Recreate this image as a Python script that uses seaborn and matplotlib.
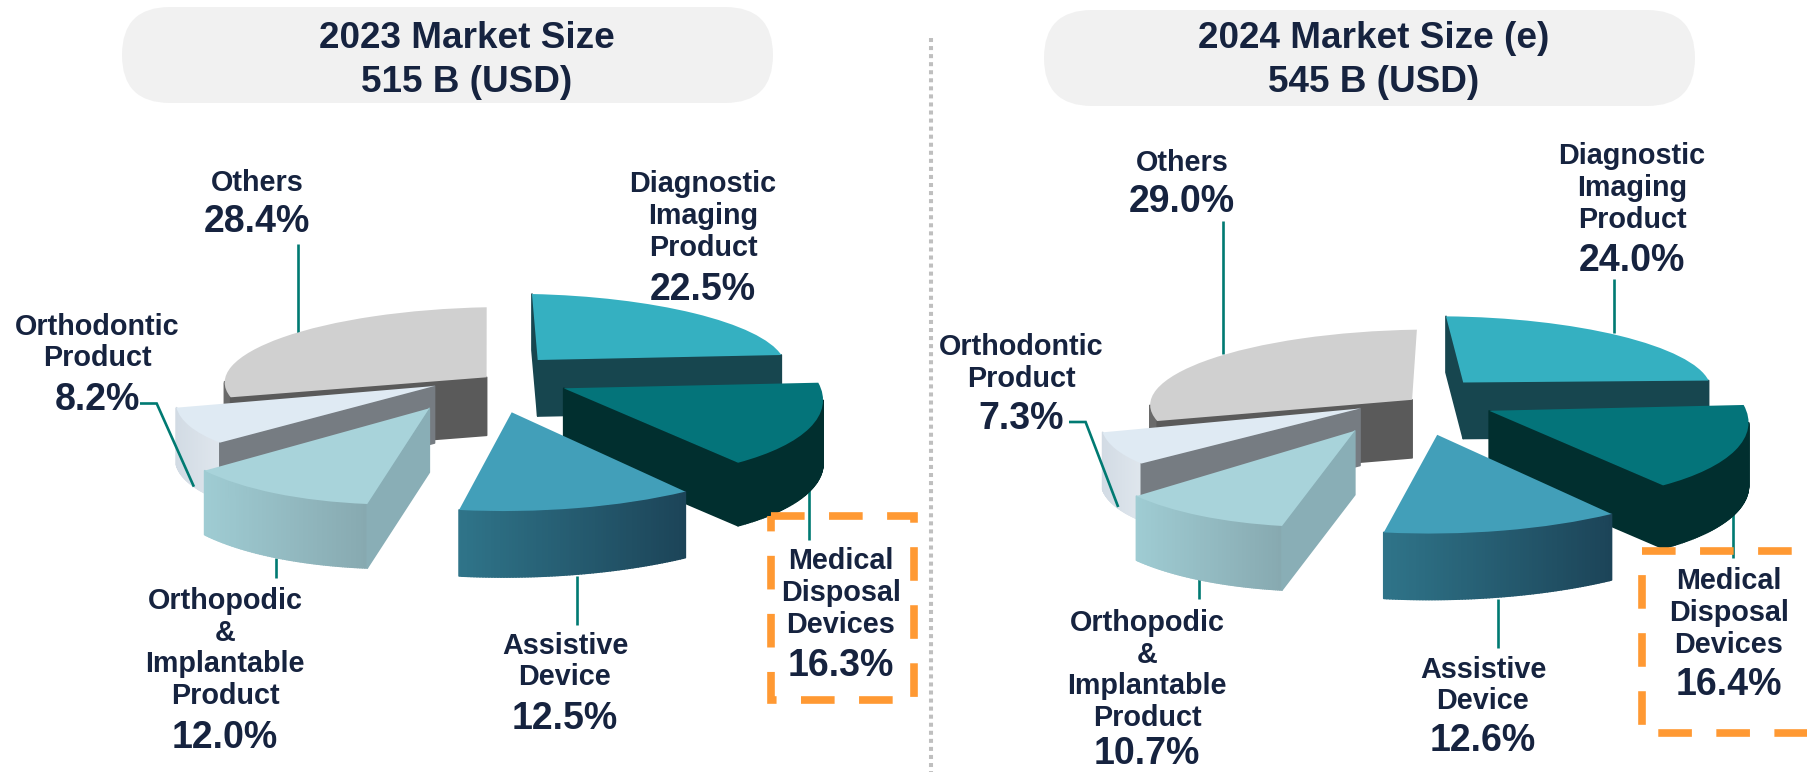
import matplotlib
matplotlib.use("Agg")
import matplotlib.pyplot as plt
import numpy as np
import seaborn as sns

from matplotlib.collections import PolyCollection
from matplotlib.patches import FancyBboxPatch, Rectangle
from matplotlib.transforms import Affine2D

sns.set_theme(style="white")
plt.rcParams["font.family"] = ["Liberation Sans", "DejaVu Sans"]

# slices, counter clockwise from the top of the pie
categories = ["Others", "Orthodontic\nProduct", "Orthopodic\n&\nImplantable\nProduct",
              "Assistive\nDevice", "Medical\nDisposal\nDevices", "Diagnostic\nImaging\nProduct"]
share_2023 = [28.4, 8.2, 12.0, 12.5, 16.3, 22.5]
share_2024 = [29.0, 7.3, 10.7, 12.6, 16.4, 24.0]
titles = ["2023 Market Size\n515 B (USD)", "2024 Market Size (e)\n545 B (USD)"]

# look of each slice
top_colors = ["#d0d0d0", "#dfeaf3", "#a8d3da", "#429fb9", "#04747a", "#35b0c1"]
wall_left = ["#6a6a6a", "#d2dbe4", "#9fccd3", "#2f7489", "#012f2f", "#17464f"]
wall_right = ["#5a5a5a", "#dfe6ed", "#87a9b0", "#1c4458", "#012f2f", "#17464f"]
cut_colors = ["#5a5a5a", "#767c82", "#89aeb6", "#1f4a5c", "#012f2f", "#17464f"]
depths = [58, 57, 64, 66, 63, 56]
# view of each slice: tip x, tip y, then where the mid spoke and the side spoke land
views = [(486.6, 377.3, -204.0, -39.9, -164.3, 57.8),
         (434.5, 386.0, -244.4, 40.5, 85.1, 68.6),
         (429.3, 408.3, -154.2, 85.0, 220.7, 45.2),
         (511.7, 412.3, 65.5, 95.8, 295.3, -23.9),
         (563.7, 388.3, 246.1, 39.5, 81.8, -81.6),
         (537.7, 360.0, 156.5, -46.7, -191.8, -46.9)]
draw_order = [0, 5, 1, 4, 2, 3]
chart_shift = [(0, 0), (925.5, 22.5)]

TEXT = "#16233f"
TEAL = "#007a72"
ORANGE = "#ff9933"
W, H = 1807, 772

fig = plt.figure(figsize=(W / 100, H / 100), dpi=100)
ax = fig.add_axes([0, 0, 1, 1])


def draw_pie(values, shift):
    wedges, _ = ax.pie(values, startangle=90, radius=1, center=(0, 0), normalize=True)
    for z, i in enumerate(draw_order):
        w = wedges[i]
        tx, ty, xx, xy, yx, yy = views[i]
        mid = (w.theta1 + w.theta2) / 2
        proj = Affine2D().rotate_deg(-mid) + Affine2D.from_values(xx, xy, yx, yy, tx + shift[0], ty + shift[1])
        w.set_transform(proj + ax.transData)
        w.set(facecolor=top_colors[i], edgecolor="none", zorder=10 + z * 2 + 1)

        # walls, pushed down from the outline of the wedge
        th = np.radians(np.linspace(w.theta1, w.theta2, 80))
        outline = np.column_stack([np.r_[0, np.cos(th)], np.r_[0, np.sin(th)]])
        pts = proj.transform(outline)
        x, y = pts[:, 0], pts[:, 1]
        area = np.sum(x * np.roll(y, -1) - np.roll(x, -1) * y)
        cmap = sns.blend_palette([wall_left[i], wall_right[i]], 64, as_cmap=True)
        quads, cols = [], []
        for k in range(len(pts)):
            p, q = pts[k], pts[(k + 1) % len(pts)]
            normal_y = -(q[0] - p[0]) * np.sign(area)
            if normal_y <= 0 or (i == 0 and k == 0):
                continue
            quads.append([p, q, q + (0, depths[i]), p + (0, depths[i])])
            if k == 0 or k == len(pts) - 1:
                cols.append(cut_colors[i])
            else:
                cols.append(cmap((p[0] - x[1:].min()) / (x[1:].max() - x[1:].min())))
        walls = PolyCollection(quads, facecolors=cols, edgecolors="face", linewidths=1.2, zorder=10 + z * 2)
        walls.set_snap(False)
        ax.add_collection(walls)


def label(x, ys, pct_y, name, pct):
    ax.text(x, np.mean(ys) + 2, name, ha="center", va="center", fontsize=20.7, fontweight="bold",
            color=TEXT, linespacing=1.18, zorder=40)
    ax.text(x, pct_y + 2, f"{pct:.1f}%", ha="center", va="center", fontsize=27, fontweight="bold",
            color=TEXT, zorder=40)


def leader(xs, ys, z=5):
    ax.plot(xs, ys, color=TEAL, lw=1.9, solid_capstyle="butt", solid_joinstyle="miter", zorder=z)


draw_pie(share_2023, chart_shift[0])
draw_pie(share_2024, chart_shift[1])

ax.set_aspect("auto")
ax.set_xlim(0, W)
ax.set_ylim(H, 0)
ax.set_axis_off()

# title pills
pills = [(122, 773, 7, 103), (1044, 1695, 10, 106)]
for (x0, x1, y0, y1), title, tx, ty in zip(pills, titles, [467, 1374], [60.5, 60.5]):
    ax.add_patch(FancyBboxPatch((x0 + 48, y0 + 48), x1 - x0 - 96, y1 - y0 - 96,
                                boxstyle="round,pad=48,rounding_size=48", fc="#f1f1f1", ec="none", zorder=1))
    ax.text(tx, ty, title, ha="center", va="center", fontsize=26.6, fontweight="bold",
            color=TEXT, linespacing=1.32, zorder=40)

# divider
ax.plot([931, 931], [38, 772], color="#bfbfbf", lw=2.9, dashes=(1, 1), dash_capstyle="butt", zorder=2)

# dashed boxes around the medical disposal label
for (x0, y0, x1, y1) in [(770.7, 516, 913.7, 699.7), (1642, 551, 1840, 733)]:
    ax.add_patch(Rectangle((x0, y0), x1 - x0, y1 - y0, fill=False, ec=ORANGE, lw=5.5,
                           linestyle=(0, (4.4, 3.2)), zorder=30))

# leaders
leader([298, 298], [244, 349])
leader([140, 156.7, 193.9], [403.5, 403.5, 486.7], z=35)
leader([275.8, 275.8], [558, 578])
leader([576.8, 576.8], [576, 625])
leader([809.2, 809.2], [486, 540])

leader([1222.7, 1222.7], [221, 354])
leader([1613.8, 1613.8], [279, 333])
leader([1069, 1085.6, 1118.2], [422, 422, 507], z=35)
leader([1199.3, 1199.3], [579, 599])
leader([1498.5, 1498.5], [599, 648])
leader([1733, 1733], [509, 558])

# labels 2023
label(257, [181], 220, categories[0], share_2023[0])
label(97, [324, 357], 398, categories[1], share_2023[1])
label(225, [596, 629, 664, 697], 736, categories[2], share_2023[2])
label(565, [643, 676], 717, categories[3], share_2023[3])
label(841, [557, 591, 625], 664, categories[4], share_2023[4])
label(703, [181, 214, 248], 288, categories[5], share_2023[5])

# labels 2024
label(1182, [161], 200, categories[0], share_2024[0])
label(1021, [345, 377], 417, categories[1], share_2024[1])
label(1147, [618, 651, 686, 719], 752, categories[2], share_2024[2])
label(1483, [666, 701], 739, categories[3], share_2024[3])
label(1729, [577, 611, 644], 683, categories[4], share_2024[4])
label(1632, [152, 186, 220], 259, categories[5], share_2024[5])

fig.savefig("out.png", dpi=100)
